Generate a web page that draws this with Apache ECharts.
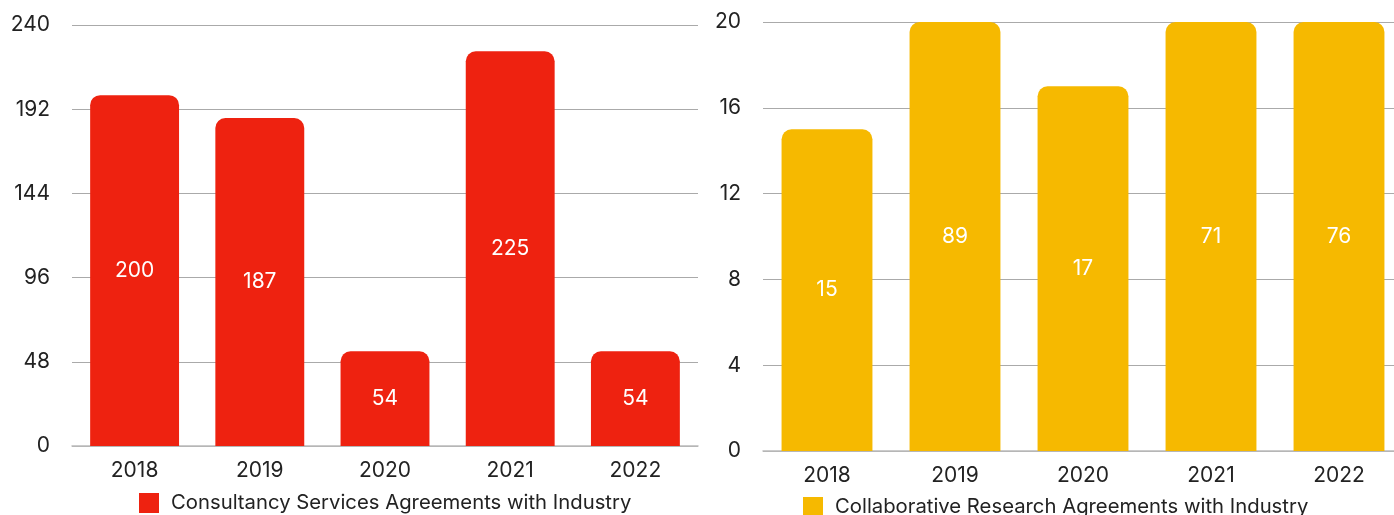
<!DOCTYPE html>
<html>
<head>
<meta charset="utf-8">
<script src="https://cdn.jsdelivr.net/npm/echarts@6/dist/echarts.min.js"></script>
<style>
  html, body { margin: 0; padding: 0; background: #fff; }
  #chart { width: 1394px; height: 515px; }
</style>
</head>
<body>
<div id="chart"></div>
<script>
// data
const years = ['2018', '2019', '2020', '2021', '2022']
const consultancy = [200, 187, 54, 225, 54]
const collaborative = [15, 89, 17, 71, 76]

const FONT = 'Inter, Roboto, sans-serif'
const RED = '#ee2210'
const YELLOW = '#f6b900'

const chart = echarts.init(document.getElementById('chart'))

function xAxis(gridIndex) {
  return {
    type: 'category',
    gridIndex,
    data: years,
    axisTick: { show: false },
    axisLine: { lineStyle: { color: '#bbb', width: 1.5 } },
    axisLabel: { color: '#222', fontSize: 21, fontFamily: FONT, margin: 14 }
  }
}

function yAxis(gridIndex, max, interval) {
  return {
    type: 'value',
    gridIndex,
    min: 0,
    max,
    interval,
    axisLine: { show: false },
    axisTick: { show: false },
    axisLabel: { color: '#222', fontSize: 21, fontFamily: FONT, margin: 22 },
    splitLine: { lineStyle: { color: '#aaa', width: 1 } }
  }
}

function legend(name, left, top) {
  return {
    data: [name],
    left, top,
    itemWidth: 20, itemHeight: 20,
    icon: 'rect',
    textStyle: { fontSize: 20.3, color: '#222', fontFamily: FONT, padding: [0, 0, 0, 7] }
  }
}

chart.setOption({
  animation: false,
  grid: [
    { left: 72, right: 696, top: 25, bottom: 69, outerBoundsMode: 'none' },
    { left: 763, width: 640, top: 22, bottom: 64, outerBoundsMode: 'none' }
  ],
  xAxis: [xAxis(0), xAxis(1)],
  yAxis: [yAxis(0, 240, 48), yAxis(1, 20, 4)],
  legend: [
    legend('Consultancy Services Agreements with Industry', 134, 488),
    legend('Collaborative Research Agreements with Industry', 798, 492)
  ],
  series: [
    {
      name: 'Consultancy Services Agreements with Industry',
      type: 'bar',
      xAxisIndex: 0, yAxisIndex: 0,
      data: consultancy,
      barWidth: '71%',
      itemStyle: { color: RED, borderRadius: [10, 10, 0, 0] },
      label: { show: true, position: 'inside', color: '#fff', fontSize: 21, fontFamily: FONT }
    },
    {
      name: 'Collaborative Research Agreements with Industry',
      type: 'bar',
      xAxisIndex: 1, yAxisIndex: 1,
      data: collaborative,
      barWidth: '71%',
      clip: true,
      itemStyle: { color: YELLOW, borderRadius: [10, 10, 0, 0] },
      label: { show: true, position: 'inside', color: '#fff', fontSize: 21, fontFamily: FONT }
    }
  ]
})
</script>
</body>
</html>
